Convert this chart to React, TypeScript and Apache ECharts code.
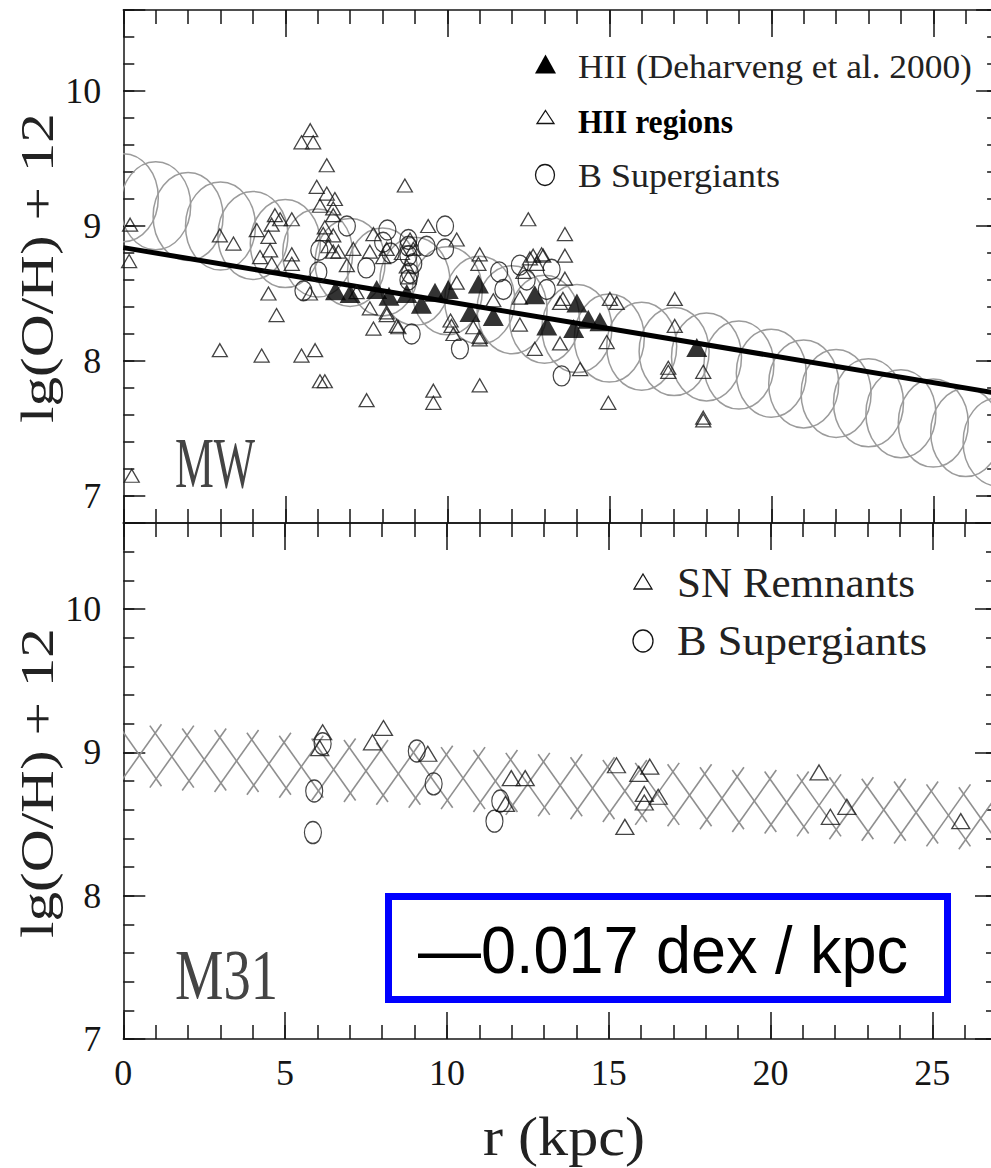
import React, { useEffect, useRef } from "react";
import * as echarts from "echarts";

// ---------------- data ----------------
// Milky Way: linear fit line (end points)
const mwFitR = [0, 27];
const mwFitV = [8.84, 7.76];

// Milky Way: big grey circles (model band)
const mwModelR = [0, 1, 2, 3, 4, 5, 6, 7, 8, 9, 10, 11, 12, 13, 14, 15, 16, 17, 18, 19, 20, 21, 22, 23, 24, 25, 26, 27];
const mwModelV = [9.21, 9.15, 9.07, 9.0, 8.93, 8.87, 8.8, 8.73, 8.66, 8.59, 8.52, 8.45, 8.38, 8.31, 8.24, 8.17, 8.11, 8.07, 8.03, 7.97, 7.91, 7.83, 7.76, 7.69, 7.61, 7.54, 7.47, 7.4];

// Milky Way: HII (Deharveng et al. 2000) filled triangles
const mwDeharveng: number[][] = [
  [6.55, 8.52], [7.0, 8.5], [7.82, 8.53], [8.2, 8.48], [8.75, 8.5], [9.2, 8.42], [9.62, 8.51],
  [10.03, 8.53], [10.7, 8.36], [10.96, 8.57], [11.42, 8.33], [12.7, 8.49], [13.07, 8.26],
  [13.9, 8.24], [14.0, 8.43], [14.35, 8.31], [14.71, 8.29], [17.7, 8.1],
];

// Milky Way: HII regions, open triangles
const mwHII: number[][] = [
  [0.21, 9.01], [0.18, 8.74], [0.26, 7.15],
  [2.98, 8.93], [3.4, 8.87], [2.98, 8.08],
  [4.12, 8.97], [4.68, 9.08], [4.84, 9.05], [4.58, 9.01], [4.48, 8.92], [4.53, 8.82], [4.22, 8.77],
  [4.58, 8.72], [4.48, 8.5], [4.73, 8.34], [4.27, 8.04],
  [5.2, 9.05], [5.2, 8.79], [5.2, 8.72], [5.5, 9.62], [5.77, 9.71], [5.86, 9.62], [5.5, 8.04],
  [5.92, 8.08], [5.76, 8.5], [5.97, 9.29], [6.07, 9.15], [6.07, 7.85], [6.22, 7.85],
  [6.28, 9.45], [6.28, 9.24], [6.53, 9.2], [6.48, 9.13], [6.48, 9.08], [6.22, 8.99], [6.17, 8.94],
  [6.48, 8.93], [6.33, 8.85], [6.48, 8.81], [6.64, 8.81],
  [7.1, 8.83], [6.9, 8.71], [7.2, 8.51], [7.51, 7.71], [7.72, 8.94], [7.61, 8.81], [7.61, 8.39],
  [7.72, 8.24], [8.13, 8.34], [8.44, 8.26], [8.13, 8.83], [8.02, 8.77], [8.69, 9.3],
  [8.85, 8.9], [8.95, 8.83], [8.13, 8.36], [8.49, 8.25], [8.75, 8.7], [8.8, 8.62], [8.6, 8.8],
  [9.41, 9.0], [9.57, 7.78], [9.57, 7.69], [10.29, 8.9], [10.29, 8.58], [10.13, 8.26], [10.19, 8.2],
  [10.1, 8.3], [10.8, 8.25], [11.0, 8.18], [11.0, 8.79], [10.96, 8.72], [11.0, 8.16], [11.0, 7.82],
  [11.42, 8.45], [12.24, 8.47], [12.24, 8.27], [12.5, 9.05], [12.65, 8.78], [12.96, 8.78],
  [12.76, 8.72], [12.35, 8.66], [12.55, 8.76], [12.91, 8.79], [12.7, 8.09],
  [13.63, 8.94], [13.63, 8.78], [13.63, 8.61], [13.48, 8.43], [13.48, 8.13], [13.57, 8.46], [14.1, 7.94],
  [15.02, 8.46], [15.23, 8.43], [14.92, 8.14], [14.97, 7.69],
  [17.02, 8.46], [17.02, 8.26], [16.82, 7.95], [16.82, 7.92], [17.9, 7.92], [17.9, 7.58], [17.9, 7.56],
];

// Milky Way: B supergiants, open circles
const mwBSG: number[][] = [
  [5.56, 8.52], [6.02, 8.66], [6.05, 8.82], [6.9, 9.0], [7.5, 8.69], [8.15, 8.97], [8.25, 8.8],
  [8.02, 8.88], [8.9, 8.2], [8.95, 8.72], [8.8, 8.9], [8.8, 8.85], [8.8, 8.78], [8.85, 8.65],
  [8.8, 8.6], [9.36, 8.85], [9.93, 9.0], [9.93, 8.83], [10.39, 8.09], [11.6, 8.66], [11.73, 8.53],
  [12.24, 8.71], [12.45, 8.6], [13.22, 8.68], [13.07, 8.53], [13.53, 7.89],
];

// M31: grey cross band (model)
const m31BandR = [0.5, 1.5, 2.5, 3.5, 4.5, 5.5, 6.5, 7.5, 8.5, 9.5, 10.5, 11.5, 12.5, 13.5, 14.5, 15.5, 16.5, 17.5, 18.5, 19.5, 20.5, 21.5, 22.5, 23.5, 24.5, 25.5, 26.5];
const m31BandV = [8.98, 8.97, 8.95, 8.94, 8.92, 8.9, 8.88, 8.87, 8.85, 8.83, 8.82, 8.8, 8.78, 8.77, 8.75, 8.73, 8.71, 8.7, 8.68, 8.66, 8.65, 8.63, 8.61, 8.6, 8.58, 8.56, 8.54];

// M31: SN remnants (triangles) and B supergiants (circles)
const m31SNR: number[][] = [
  [6.16, 9.14], [6.07, 9.03], [8.04, 9.17], [7.7, 9.07], [9.41, 8.99], [11.99, 8.82], [12.42, 8.82],
  [11.81, 8.64], [15.24, 8.91], [15.93, 8.85], [16.27, 8.9], [16.1, 8.71], [16.1, 8.65], [16.53, 8.69],
  [15.5, 8.48], [21.5, 8.86], [22.36, 8.62], [21.85, 8.55], [25.88, 8.52],
];
const m31BSG: number[][] = [
  [6.16, 9.06], [5.9, 8.73], [5.86, 8.44], [9.07, 9.01], [9.59, 8.78], [11.65, 8.66], [11.47, 8.52],
];

// axes
const X_MIN = 0;
const X_MAX = 27;
const MW_Y = [6.8, 10.6];
const M31_Y = [7.0, 10.6];
const gradientText = "\u20140.017 dex / kpc";

// ---------------- layout / style ----------------
const SERIF = '"Liberation Serif", "Times New Roman", serif';
const SANS = '"Liberation Sans", Arial, sans-serif';
const INK = "#151515";
const GRID_LEFT = 123.3;
const GRID_W = 874.8;

let measureCtx: CanvasRenderingContext2D | null = null;
function measureWidth(text: string, font: string): number {
  if (!measureCtx) measureCtx = document.createElement("canvas").getContext("2d");
  measureCtx!.font = font;
  return measureCtx!.measureText(text).width;
}

function fitText(text: string, left: number, baseline: number, width: number, size: number, family: string, color: string, weight = "normal") {
  const font = `${weight} ${size}px ${family}`;
  const w = measureWidth(text, font);
  return {
    type: "text",
    x: left,
    y: baseline - 0.34 * size,
    scaleX: width / w,
    z: 50,
    style: { text, font, fill: color, align: "left", verticalAlign: "middle" },
  };
}

function vertText(text: string, cx: number, cy: number, length: number, size: number) {
  const font = `normal ${size}px ${SERIF}`;
  const w = measureWidth(text, font);
  return {
    type: "text",
    x: cx,
    y: cy,
    rotation: Math.PI / 2,
    scaleX: length / w,
    scaleY: 0.76,
    z: 50,
    style: { text, font, fill: "#222", align: "center", verticalAlign: "middle" },
  };
}

const lineStyle = { color: INK, width: 1.5 };

function makeXAxes(gridIndex: number, labels: boolean) {
  const common: any = {
    type: "value", gridIndex, min: X_MIN, max: X_MAX,
    splitLine: { show: false },
    axisLine: { show: true, onZero: false, lineStyle },
  };
  const major = (position: string) => ({
    ...common, position, interval: 5,
    axisTick: { show: true, inside: true, length: 27, lineStyle },
    axisLabel: position === "bottom" && labels
      ? {
          show: true, margin: 16, fontFamily: SERIF, fontSize: 36, color: INK,
          formatter: (v: number) => (Math.abs(v % 5) < 1e-6 ? String(v) : ""),
        }
      : { show: false },
  });
  const minor = (position: string) => ({
    ...common, position, interval: 1,
    axisLine: { show: false, onZero: false },
    axisTick: { show: true, inside: true, length: 14, lineStyle },
    axisLabel: { show: false },
  });
  return [major("bottom"), minor("bottom"), major("top"), minor("top")];
}

function makeYAxes(gridIndex: number, range: number[]) {
  const common: any = {
    type: "value", gridIndex, min: range[0], max: range[1],
    splitLine: { show: false },
    axisLine: { show: true, onZero: false, lineStyle },
  };
  const major = (position: string) => ({
    ...common, position, splitNumber: 4,
    axisTick: { show: true, inside: true, length: 22, lineStyle },
    axisLabel: position === "left"
      ? {
          show: true, margin: 22, fontFamily: SERIF, fontSize: 36, color: INK,
          formatter: (v: number) => {
            const r = Math.round(v);
            return Math.abs(v - r) < 1e-6 ? String(r) : "";
          },
        }
      : { show: false },
  });
  const minor = (position: string) => ({
    ...common, position, interval: 0.2,
    axisLine: { show: false, onZero: false },
    axisTick: { show: true, inside: true, length: 11, lineStyle },
    axisLabel: { show: false },
  });
  return [major("left"), minor("left"), major("right"), minor("right")];
}

const ELLIPSE_PATH = "path://M10,0 C15.523,0 20,4.477 20,10 C20,15.523 15.523,20 10,20 C4.477,20 0,15.523 0,10 C0,4.477 4.477,0 10,0 Z";
const hollow = { color: "rgba(0,0,0,0)", borderColor: INK, borderWidth: 1.3 };

function buildOption() {
  const mwModel = mwModelR.map((r, i) => [r, mwModelV[i]]);
  const m31Band = m31BandR.map((r, i) => [r, m31BandV[i]]);
  const mwFit = mwFitR.map((r, i) => [r, mwFitV[i]]);

  const graphics: any[] = [
    // y-axis titles
    vertText("lg(O/H) + 12", 37, 268, 310, 60),
    vertText("lg(O/H) + 12", 37, 783, 310, 60),
    // x-axis title
    fitText("r (kpc)", 483, 1155, 162, 54, SERIF, "#222"),
    // panel names
    fitText("MW", 175, 487, 80, 71, SERIF, "#444"),
    fitText("M31", 175, 1000, 103, 71, SERIF, "#444"),
    // MW legend
    { type: "polygon", z: 50, shape: { points: [[545.5, 54.5], [556, 73.5], [535, 73.5]] }, style: { fill: "#000" } },
    fitText("HII (Deharveng et al. 2000)", 578, 78, 394, 34, SERIF, "#222"),
    { type: "polygon", z: 50, shape: { points: [[545.5, 110.5], [554, 123.5], [537, 123.5]] }, style: { fill: "none", stroke: INK, lineWidth: 1.3 } },
    fitText("HII regions", 578, 133, 155, 34, SERIF, "#000", "bold"),
    { type: "ellipse", z: 50, shape: { cx: 545, cy: 175, rx: 9.5, ry: 10.5 }, style: { fill: "none", stroke: INK, lineWidth: 1.3 } },
    fitText("B Supergiants", 578, 187, 202, 34, SERIF, "#222"),
    // M31 legend
    { type: "polygon", z: 50, shape: { points: [[643, 574], [652, 589], [634, 589]] }, style: { fill: "none", stroke: INK, lineWidth: 1.3 } },
    fitText("SN Remnants", 677, 597, 238, 42, SERIF, "#222"),
    { type: "ellipse", z: 50, shape: { cx: 643, cy: 641, rx: 10, ry: 11 }, style: { fill: "none", stroke: INK, lineWidth: 1.3 } },
    fitText("B Supergiants", 677, 655, 250, 42, SERIF, "#222"),
    // gradient box
    { type: "rect", z: 60, shape: { x: 388.5, y: 896.5, width: 559, height: 103 }, style: { fill: "#fff", stroke: "#0000ff", lineWidth: 7 } },
    { ...fitText(gradientText, 418, 973, 490, 66, SANS, "#000"), z: 61 },
  ];

  return {
    animation: false,
    backgroundColor: "#fff",
    grid: [
      { left: GRID_LEFT, top: 10, width: GRID_W, height: 513 },
      { left: GRID_LEFT, top: 523, width: GRID_W, height: 516 },
    ],
    xAxis: [...makeXAxes(0, false), ...makeXAxes(1, true)],
    yAxis: [...makeYAxes(0, MW_Y), ...makeYAxes(1, M31_Y)],
    series: [
      {
        type: "custom", xAxisIndex: 0, yAxisIndex: 0, clip: true, z: 1, data: mwModel,
        renderItem: (params: any, api: any) => {
          const c = api.coord([api.value(0), api.value(1)]);
          return { type: "ellipse", shape: { cx: c[0], cy: c[1], rx: 35, ry: 44 }, style: { fill: "none", stroke: "#9b9b9b", lineWidth: 1.5 } };
        },
      },
      {
        type: "line", xAxisIndex: 0, yAxisIndex: 0, z: 2, data: mwFit, symbol: "none",
        lineStyle: { color: "#000", width: 5 },
      },
      {
        type: "scatter", xAxisIndex: 0, yAxisIndex: 0, z: 3, data: mwHII, symbol: "triangle",
        symbolSize: [15, 13], itemStyle: hollow,
      },
      {
        type: "scatter", xAxisIndex: 0, yAxisIndex: 0, z: 3, data: mwBSG, symbol: ELLIPSE_PATH,
        symbolSize: [17, 20], itemStyle: hollow,
      },
      {
        type: "scatter", xAxisIndex: 0, yAxisIndex: 0, z: 4, data: mwDeharveng, symbol: "triangle",
        symbolSize: [21, 19], itemStyle: { color: "#000" },
      },
      {
        type: "custom", xAxisIndex: 4, yAxisIndex: 4, clip: true, z: 1, data: m31Band,
        renderItem: (params: any, api: any) => {
          const c = api.coord([api.value(0), api.value(1)]);
          const hw = 22, hh = 31;
          const st = { stroke: "#8f8f8f", lineWidth: 1.6 };
          return {
            type: "group",
            children: [
              { type: "line", shape: { x1: c[0] - hw, y1: c[1] - hh, x2: c[0] + hw, y2: c[1] + hh }, style: st },
              { type: "line", shape: { x1: c[0] - hw, y1: c[1] + hh, x2: c[0] + hw, y2: c[1] - hh }, style: st },
            ],
          };
        },
      },
      {
        type: "scatter", xAxisIndex: 4, yAxisIndex: 4, z: 3, data: m31SNR, symbol: "triangle",
        symbolSize: [18, 15], itemStyle: hollow,
      },
      {
        type: "scatter", xAxisIndex: 4, yAxisIndex: 4, z: 3, data: m31BSG, symbol: ELLIPSE_PATH,
        symbolSize: [17, 22], itemStyle: hollow,
      },
    ],
    graphic: graphics,
  };
}

export default function App() {
  const ref = useRef<HTMLDivElement>(null);
  useEffect(() => {
    if (!ref.current) return;
    const chart = echarts.init(ref.current, null, { renderer: "svg" });
    chart.setOption(buildOption() as any);
    return () => chart.dispose();
  }, []);
  return (
    <div style={{ position: "fixed", left: 0, top: 0, width: 991, height: 1168, overflow: "hidden", background: "#fff" }}>
      <div ref={ref} style={{ width: 1000, height: 1168 }} />
    </div>
  );
}
